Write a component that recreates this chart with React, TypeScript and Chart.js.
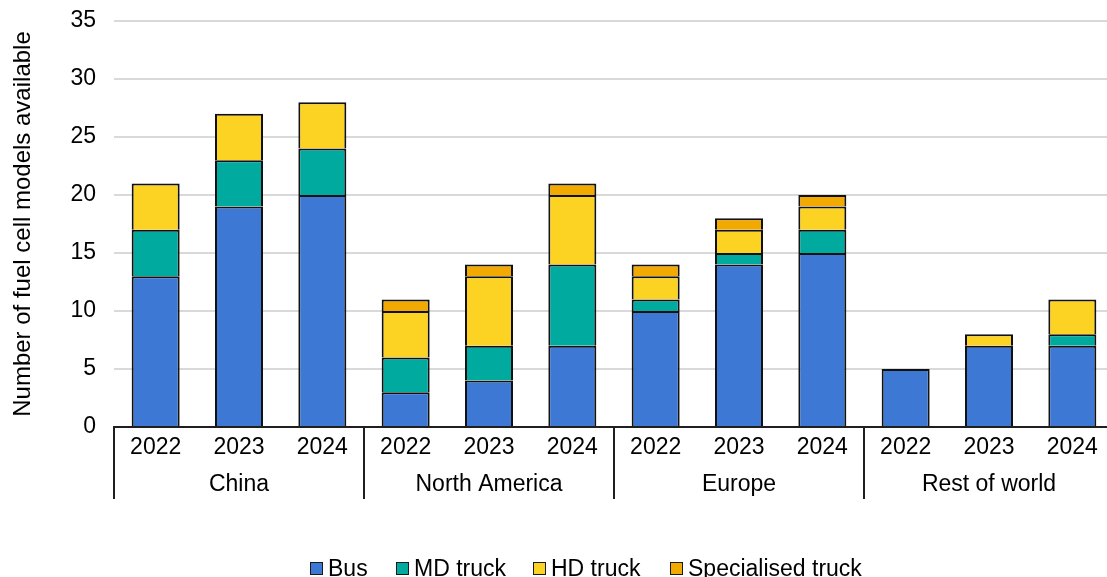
import React, { useEffect, useRef } from "react";
import { Chart, registerables } from "chart.js";

Chart.register(...registerables);

// ---- data ----
const years: string[] = ["2022", "2023", "2024", "2022", "2023", "2024", "2022", "2023", "2024", "2022", "2023", "2024"];
const regions: string[] = ["China", "North America", "Europe", "Rest of world"];
const bus: number[] = [13, 19, 20, 3, 4, 7, 10, 14, 15, 5, 7, 7];
const mdTruck: number[] = [4, 4, 4, 3, 3, 7, 1, 1, 2, 0, 0, 1];
const hdTruck: number[] = [4, 4, 4, 4, 6, 6, 2, 2, 2, 0, 1, 3];
const specialisedTruck: number[] = [0, 0, 0, 1, 1, 1, 1, 1, 1, 0, 0, 0];
const seriesNames: string[] = ["Bus", "MD truck", "HD truck", "Specialised truck"];
const yTicks: number[] = [0, 5, 10, 15, 20, 25, 30, 35];

const COLORS = ["#3c78d4", "#00aa9f", "#fdd323", "#f2a900"];
const FONT = '"Liberation Sans", Arial, sans-serif';
const W = 1200;
const H = 577;

const groupPlugin = {
  id: "groupLabels",
  afterDraw(chart: any) {
    const ctx = chart.ctx;
    const xs = chart.scales.x;
    const area = chart.chartArea;
    const n = chart.data.labels.length;
    const step = (area.right - area.left) / n;
    ctx.save();
    ctx.strokeStyle = "#1f1f1f";
    ctx.lineWidth = 2;
    for (let g = 0; g < regions.length; g++) {
      const idx = g * 3;
      const x = xs.getPixelForValue(idx) - step / 2;
      ctx.beginPath();
      ctx.moveTo(x, area.bottom);
      ctx.lineTo(x, 499);
      ctx.stroke();
    }
    ctx.fillStyle = "#000";
    ctx.font = `23px ${FONT}`;
    ctx.textAlign = "center";
    ctx.textBaseline = "alphabetic";
    regions.forEach((r, g) => {
      const cx = xs.getPixelForValue(g * 3 + 1);
      ctx.fillText(r, cx, 491);
    });
    // legend
    const legendX = [310, 396, 533, 670];
    ctx.textAlign = "left";
    seriesNames.forEach((name, i) => {
      const x = legendX[i];
      ctx.fillStyle = COLORS[i];
      ctx.fillRect(x, 562, 13, 13);
      ctx.strokeStyle = "#1a1a1a";
      ctx.lineWidth = 1;
      ctx.strokeRect(x + 0.5, 562.5, 12, 12);
      ctx.fillStyle = "#000";
      ctx.fillText(name, x + 18, 576);
    });
    ctx.restore();
  },
};

export default function App() {
  const ref = useRef<HTMLCanvasElement>(null);

  useEffect(() => {
    if (!ref.current) return;
    const series = [bus, mdTruck, hdTruck, specialisedTruck];
    const chart = new Chart(ref.current, {
      type: "bar",
      data: {
        labels: years,
        datasets: series.map((vals, i) => ({
          label: seriesNames[i],
          data: vals.map((v) => (v === 0 ? null : v)),
          backgroundColor: COLORS[i],
          borderColor: "#111",
          borderWidth: 2,
          barPercentage: 0.576,
          categoryPercentage: 1,
        })),
      },
      options: {
        responsive: false,
        animation: false,
        devicePixelRatio: 1,
        layout: { padding: { left: 0, right: W - 1114, top: 21, bottom: 0 } },
        plugins: {
          legend: { display: false },
          tooltip: { enabled: false },
        },
        scales: {
          x: {
            stacked: true,
            z: 1,
            grid: { display: false, drawTicks: false },
            border: { display: true, color: "#1f1f1f", width: 2 },
            ticks: {
              color: "#000",
              font: { family: FONT, size: 23 },
              padding: 7,
              maxRotation: 0,
              autoSkip: false,
            },
            afterFit: (scale: any) => {
              scale.height = H - 427;
            },
          },
          y: {
            stacked: true,
            min: 0,
            max: 35,
            afterBuildTicks: (scale: any) => {
              scale.ticks = yTicks.map((v) => ({ value: v }));
            },
            grid: { color: "#d9d9d9", lineWidth: 2, drawTicks: true, tickLength: 18, tickColor: "rgba(0,0,0,0)" },
            border: { display: false },
            ticks: {
              color: "#000",
              font: { family: FONT, size: 23 },
              padding: 0,
            },
            title: {
              display: true,
              text: "Number of fuel cell models available",
              color: "#000",
              font: { family: FONT, size: 24 },
              padding: { top: 9, bottom: 0 },
            },
            afterFit: (scale: any) => {
              scale.width = 114;
            },
          },
        },
      },
      plugins: [groupPlugin],
    });
    return () => chart.destroy();
  }, []);

  return (
    <div style={{ position: "fixed", left: 0, top: 0, width: 1107, height: 577, overflow: "hidden", background: "#fff" }}>
      <canvas ref={ref} width={W} height={H} style={{ display: "block", width: W, height: H }} />
    </div>
  );
}
